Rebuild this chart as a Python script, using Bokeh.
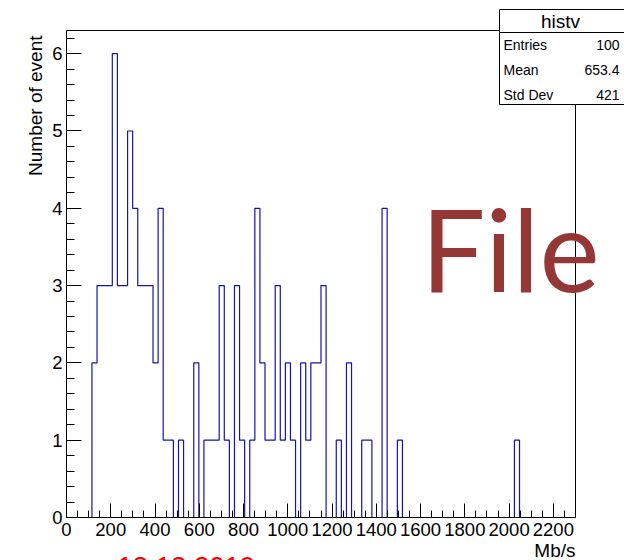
import numpy as np
from bokeh.plotting import figure
from bokeh.models import Range1d, SingleIntervalTicker, Label
from bokeh.embed import file_html
from bokeh.resources import INLINE

# ---- data ----
x_min, x_max, n_bins = 0, 2300, 100
y_top = 6.3
counts = [0, 0, 0, 0, 0, 2, 3, 3, 3, 6,
          3, 3, 5, 4, 3, 3, 3, 2, 4, 1,
          1, 0, 1, 0, 0, 2, 0, 1, 1, 1,
          3, 1, 0, 3, 1, 0, 1, 4, 2, 1,
          1, 3, 1, 2, 1, 0, 2, 1, 2, 2,
          3, 0, 0, 1, 0, 2, 0, 0, 1, 1,
          0, 0, 4, 0, 0, 1, 0, 0, 0, 0,
          0, 0, 0, 0, 0, 0, 0, 0, 0, 0,
          0, 0, 0, 0, 0, 0, 0, 0, 1, 0,
          0, 0, 0, 0, 0, 0, 0, 0, 0, 0]
hist_name = "histv"
stat_names = ["Entries", "Mean", "Std Dev"]
stat_values = ["100", "653.4", "421"]
x_title = "Mb/s"
y_title = "Number of event"
watermark = "File"
date_text = "13.12.2019"

edges = np.linspace(x_min, x_max, n_bins + 1)
ys = list(counts) + [0]

FONT = "Liberation Sans"
W, H = 624, 560
# ROOT frame in pixels
FL, FR, FT, FB = 66, 575, 30, 517


def dx(px):
    return (px - FL) / (FR - FL) * (x_max - x_min) + x_min


def dy(py):
    return (FB - py) / (FB - FT) * y_top


p = figure(width=W, height=H,
           x_range=Range1d(dx(0), dx(W)), y_range=Range1d(dy(H), dy(0)),
           output_backend="svg", toolbar_location=None,
           min_border=0, min_border_left=0, min_border_right=0,
           min_border_top=0, min_border_bottom=0)
p.grid.visible = False
p.outline_line_color = None
p.background_fill_color = "white"
p.border_fill_color = "white"

p.xaxis.ticker = SingleIntervalTicker(interval=200, num_minor_ticks=4)
p.yaxis.ticker = SingleIntervalTicker(interval=1, num_minor_ticks=5)
p.xaxis.fixed_location = 0
p.yaxis.fixed_location = x_min
p.xaxis.bounds = (x_min, x_max)
p.yaxis.bounds = (0, y_top)
for ax in (p.xaxis, p.yaxis):
    ax.axis_line_color = "black"
    ax.major_tick_line_color = "black"
    ax.minor_tick_line_color = "black"
    ax.major_tick_out = 0
    ax.minor_tick_out = 0
    ax.major_label_text_font = FONT
    ax.major_label_text_font_size = "18.5px"
    ax.major_label_text_color = "black"
p.xaxis.major_tick_in = 14
p.xaxis.minor_tick_in = 7
p.yaxis.major_tick_in = 15
p.yaxis.minor_tick_in = 8
p.xaxis.major_label_standoff = 5
p.yaxis.major_label_standoff = 4

# histogram outline
p.step(x=edges, y=ys, mode="after", line_color="#1414a8", line_width=1.2)

# ROOT frame box
p.quad(left=[x_min], right=[x_max], bottom=[0], top=[y_top],
       fill_color=None, line_color="black", line_width=1)

# watermark
p.add_layout(Label(x=dx(420.5), y=dy(247), text=watermark, text_font="Lato",
                   text_font_size="114px", text_color="#953735",
                   text_align="left", text_baseline="alphabetic"))

# axis titles
p.add_layout(Label(x=dx(575), y=dy(550), text=x_title, text_font=FONT,
                   text_font_size="19px", text_color="black",
                   text_align="right", text_baseline="middle"))
p.add_layout(Label(x=dx(35), y=dy(35), text=y_title, text_font=FONT,
                   text_font_size="19px", text_color="black",
                   text_align="right", text_baseline="middle", angle=np.pi / 2))

# date (mostly cut off by the bottom edge)
p.add_layout(Label(x=dx(117), y=dy(566), text=date_text, text_font=FONT,
                   text_font_size="27.5px", text_color="red",
                   text_align="left", text_baseline="middle"))

# stats box
p.quad(left=[dx(499)], right=[dx(640)], top=[dy(9)], bottom=[dy(32)],
       fill_color="white", line_color="black", line_width=1)
p.quad(left=[dx(499)], right=[dx(640)], top=[dy(32)], bottom=[dy(104)],
       fill_color="white", line_color="black", line_width=1)
p.add_layout(Label(x=dx(560), y=dy(21), text=hist_name, text_font=FONT,
                   text_font_size="19px", text_color="black",
                   text_align="center", text_baseline="middle"))
for i, (n, v) in enumerate(zip(stat_names, stat_values)):
    yy = dy(44 + 25 * i)
    p.add_layout(Label(x=dx(503), y=yy, text=n, text_font=FONT, text_font_size="14px",
                       text_color="black", text_align="left", text_baseline="middle"))
    p.add_layout(Label(x=dx(619), y=yy, text=v, text_font=FONT, text_font_size="14px",
                       text_color="black", text_align="right", text_baseline="middle"))

open("out.html", "w").write(file_html(p, INLINE))
